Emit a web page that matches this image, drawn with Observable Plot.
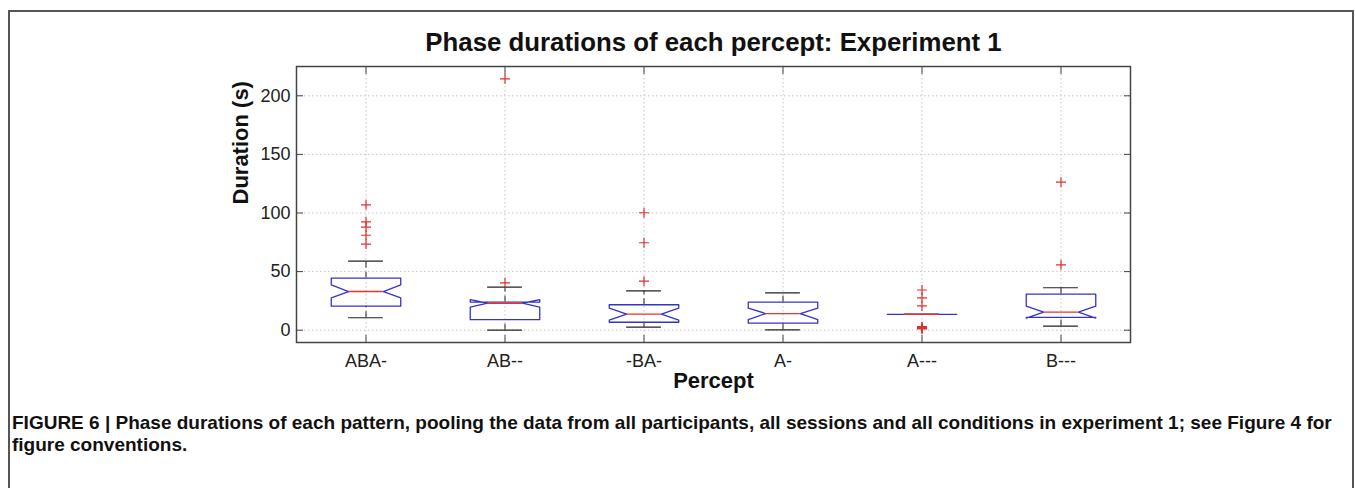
<!DOCTYPE html>
<html><head><meta charset="utf-8">
<script src="https://cdn.jsdelivr.net/npm/d3@7"></script>
<script src="https://cdn.jsdelivr.net/npm/@observablehq/plot@0.6"></script>
<style>
body{margin:0;background:#fff;width:1355px;height:488px;overflow:hidden;position:relative;font-family:"Liberation Sans",Arial,sans-serif}
#border{position:absolute;left:8px;top:10px;width:1346px;height:490px;border:2px solid #555;border-bottom:none;box-sizing:border-box}
#chart{position:absolute;left:0;top:0}
#caption{position:absolute;left:12px;top:412px;width:1338px;font-weight:bold;font-size:19px;line-height:21.5px;color:#111}
</style></head><body>
<div id="border"></div>
<div id="chart"></div>
<div id="caption">FIGURE 6 | Phase durations of each pattern, pooling the data from all participants, all sessions and all conditions in experiment 1; see Figure 4 for figure conventions.</div>
<script>
const categories = ["ABA-", "AB--", "-BA-", "A-", "A---", "B---"];
const q1        = [20.5, 9.0, 6.8, 6.0, 13.5, 11.0];
const median    = [33.0, 23.0, 13.7, 14.2, 13.5, 15.4];
const q3        = [44.4, 24.0, 21.7, 23.9, 13.5, 30.7];
const notchLo   = [27.5, 19.6, 8.5, 9.1, 13.5, 10.3];
const notchHi   = [38.7, 26.0, 18.8, 18.8, 13.5, 20.5];
const whiskerLo = [10.6, 0.0, 2.6, 0.3, 13.5, 3.4];
const whiskerHi = [58.9, 36.7, 33.6, 31.9, 13.5, 36.2];
const outlierCategory = ["ABA-","ABA-","ABA-","ABA-","ABA-","AB--","AB--","-BA-","-BA-","-BA-","A---","A---","A---","A---","A---","A---","A---","B---","B---"];
const outlierValue    = [107, 92.5, 88, 81, 73.5, 214.5, 40.4, 100.2, 74.6, 41.8, 34.3, 27.6, 20.7, 3.0, 2.4, 1.6, 1.0, 126.3, 55.8];
const yTicks = [0, 50, 100, 150, 200];
const title = "Phase durations of each percept: Experiment 1";
const xLabel = "Percept";
const yLabel = "Duration (s)";

const W = 0.25; // half box width in category units
const stats = categories.map((c, k) => ({c, i: k + 1, q1: q1[k], med: median[k], q3: q3[k], nlo: notchLo[k], nhi: notchHi[k], wlo: whiskerLo[k], whi: whiskerHi[k]}));
const boxPts = stats.flatMap(s => [
  [s.i - W, s.q1], [s.i - W, s.nlo], [s.i - W / 2, s.med], [s.i - W, s.nhi], [s.i - W, s.q3],
  [s.i + W, s.q3], [s.i + W, s.nhi], [s.i + W / 2, s.med], [s.i + W, s.nlo], [s.i + W, s.q1], [s.i - W, s.q1]
].map(([x, y]) => ({c: s.c, x, y})));
const outliers = outlierCategory.map((c, k) => ({x: categories.indexOf(c) + 1, y: outlierValue[k]}));
const plus = {draw(ctx, size) { const r = Math.sqrt(size / Math.PI); ctx.moveTo(-r, 0); ctx.lineTo(r, 0); ctx.moveTo(0, -r); ctx.lineTo(0, r); }};
const idx = d3.range(1, categories.length + 1);

const chart = Plot.plot({
  width: 1355, height: 400,
  marginLeft: 296, marginRight: 225, marginTop: 66, marginBottom: 58,
  style: {fontFamily: '"Liberation Sans", Arial, sans-serif', fontSize: "18px", color: "#222", background: "transparent"},
  x: {type: "linear", domain: [0.5, categories.length + 0.5], axis: null},
  y: {domain: [-10.5, 225], axis: null},
  marks: [
    Plot.ruleY(yTicks, {stroke: "#c4c4c4", strokeDasharray: "1.5,2.5", strokeWidth: 1}),
    Plot.ruleX(idx, {stroke: "#c4c4c4", strokeDasharray: "1.5,2.5", strokeWidth: 1}),
    Plot.axisY({anchor: "left", ticks: yTicks, tickSize: -7, tickFormat: () => "", label: null, stroke: "#444"}),
    Plot.axisY({anchor: "right", ticks: yTicks, tickSize: -7, tickFormat: () => "", label: null, stroke: "#444"}),
    Plot.axisY({anchor: "left", ticks: yTicks, tickSize: 0, tickPadding: 6, label: null, fontSize: 18, fill: "#222"}),
    Plot.axisX({anchor: "bottom", ticks: idx, tickSize: -7, tickFormat: () => "", label: null, stroke: "#444"}),
    Plot.axisX({anchor: "top", ticks: idx, tickSize: -7, tickFormat: () => "", label: null, stroke: "#444"}),
    Plot.axisX({anchor: "bottom", ticks: idx, tickSize: 0, tickPadding: 12, tickFormat: i => categories[i - 1], label: null, fontSize: 18, fill: "#222"}),
    Plot.frame({stroke: "#444", strokeWidth: 1.5}),
    Plot.ruleX(stats, {x: "i", y1: "q3", y2: "whi", stroke: "#222", strokeDasharray: "6,4", strokeWidth: 1}),
    Plot.ruleX(stats, {x: "i", y1: "wlo", y2: "q1", stroke: "#222", strokeDasharray: "6,4", strokeWidth: 1}),
    Plot.ruleY(stats, {y: "whi", x1: s => s.i - W / 2, x2: s => s.i + W / 2, stroke: "#222", strokeWidth: 1.2}),
    Plot.ruleY(stats, {y: "wlo", x1: s => s.i - W / 2, x2: s => s.i + W / 2, stroke: "#222", strokeWidth: 1.2}),
    Plot.line(boxPts, {x: "x", y: "y", z: "c", stroke: "#3434c8", strokeWidth: 1.3, curve: "linear"}),
    Plot.ruleY(stats, {y: "med", x1: s => s.i - W / 2, x2: s => s.i + W / 2, stroke: "#ee3030", strokeWidth: 1.3}),
    Plot.dot(outliers, {x: "x", y: "y", symbol: plus, r: 5, stroke: "#e03030", fill: "none", strokeWidth: 1.2}),
    Plot.text([title], {frameAnchor: "top", dy: -34, fontSize: 25.8, fontWeight: "bold", fill: "#111"}),
    Plot.text([yLabel], {frameAnchor: "left", dx: -56, rotate: -90, fontSize: 22, fontWeight: "bold", fill: "#111"}),
    Plot.text([xLabel], {frameAnchor: "bottom", dy: 45, fontSize: 22, fontWeight: "bold", fill: "#111"})
  ]
});
document.getElementById("chart").appendChild(chart);
</script>
</body></html>
